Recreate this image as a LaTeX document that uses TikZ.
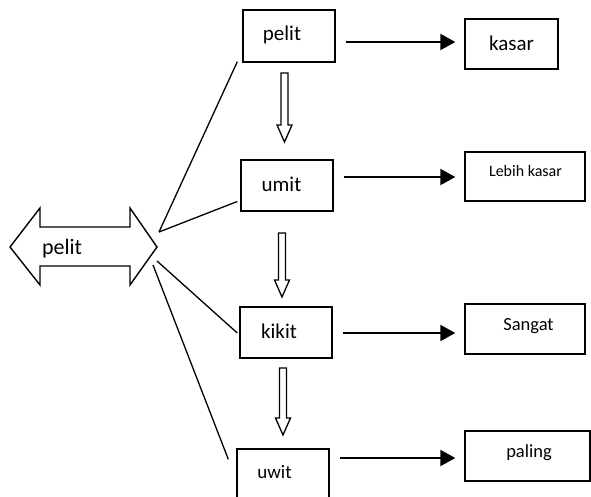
\documentclass[tikz,border=0pt]{standalone}
\usepackage{fontspec}
\setmainfont{Carlito}
\usetikzlibrary{arrows.meta,calc}
\begin{document}
\begin{tikzpicture}[x=1pt,y=-1pt,
  boxx/.style={draw,line width=1.4pt,inner sep=0pt,font=\fontsize{21}{25}\selectfont},
  conn/.style={line width=1.3pt},
  harrow/.style={line width=2pt,-{Triangle[length=15pt,width=16pt]}},
  hollow/.style={draw,line width=1.3pt,fill=white,line join=miter}]
\useasboundingbox (0,0) rectangle (591,497);
% big double arrow
\draw[line width=1.4pt,line join=miter] (10,247) -- (40,208) -- (40,227) -- (130,227) -- (130,208) -- (157,247)
  -- (130,285) -- (130,266) -- (40,266) -- (40,285) -- cycle;
\node[font=\fontsize{22}{26}\selectfont] (big) at (62,249) {pelit};
\coordinate (j1) at (159,232);
\coordinate (j2) at (157,261);
\coordinate (j3) at (153,265);
% middle boxes
\node[boxx,minimum width=92pt,minimum height=52pt] (b1) at (289,36) {};
\node[font=\fontsize{21}{25}\selectfont] (t1) at (282,35) {pelit};
\node[boxx,minimum width=92pt,minimum height=51pt] (b2) at (287,185.5) {};
\node[font=\fontsize{21}{25}\selectfont] (t2) at (281.5,184) {umit};
\node[boxx,minimum width=92pt,minimum height=51pt] (b3) at (286,332.5) {};
\node[font=\fontsize{21}{25}\selectfont] (t3) at (279,331) {kikit};
\node[boxx,minimum width=92pt,minimum height=52pt] (b4) at (283,475) {};
\node[font=\fontsize{19}{23}\selectfont] (t4) at (274.5,472) {uwit};
% right boxes
\node[boxx,minimum width=93pt,minimum height=50pt] (r1) at (511.5,44) {};
\node[font=\fontsize{21}{25}\selectfont] (s1) at (511.5,43) {kasar};
\node[boxx,minimum width=120pt,minimum height=49pt] (r2) at (525,176.5) {};
\node[font=\fontsize{16}{19}\selectfont] (s2) at (525.5,171) {Lebih kasar};
\node[boxx,minimum width=120pt,minimum height=50pt] (r3) at (525,329) {};
\node[font=\fontsize{18.5}{22}\selectfont] (s3) at (528.5,326) {Sangat};
\node[boxx,minimum width=125pt,minimum height=50pt] (r4) at (527.5,456) {};
\node[font=\fontsize{18.5}{22}\selectfont] (s4) at (529,453) {paling};
% lines from big arrow
\draw[conn] (j1) -- ($(b1.south west)+(-5,-1)$);
\draw[conn] (j1) -- ($(b2.west)+(-3,16)$);
\draw[conn] (j2) -- ($(b3.west)+(-2,0.5)$);
\draw[conn] (j3) -- ($(b4.north west)+(-8,11)$);
% horizontal arrows
\draw[harrow] ([xshift=10pt]b1.east |- 0,42) -- ([xshift=-9pt]r1.west |- 0,42);
\draw[harrow] ([xshift=10pt]b2.east |- 0,177) -- ([xshift=-9pt]r2.west |- 0,177);
\draw[harrow] ([xshift=10pt]b3.east |- 0,333) -- ([xshift=-9pt]r3.west |- 0,333);
\draw[harrow] ([xshift=10pt]b4.east |- 0,458) -- ([xshift=-9pt]r4.west |- 0,458);
% hollow down arrows
\foreach \cx/\ty/\tp in {284.5/73/142, 282/233/297, 283/368/435}{
  \draw[hollow] (\cx-3.5,\ty) -- (\cx+3.5,\ty) -- (\cx+3.5,\tp-17) -- (\cx+7.5,\tp-17) -- (\cx,\tp)
    -- (\cx-7.5,\tp-17) -- (\cx-3.5,\tp-17) -- cycle;
}
\end{tikzpicture}
\end{document}
